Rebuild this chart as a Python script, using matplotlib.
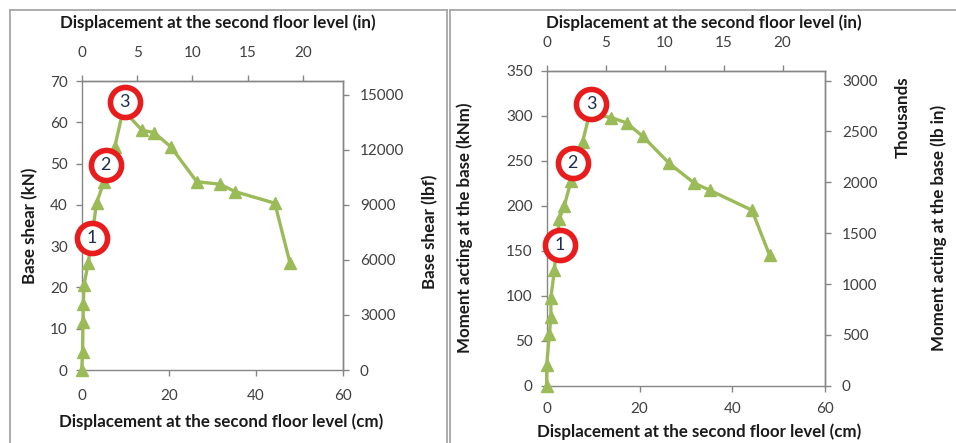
import numpy as np
import matplotlib.pyplot as plt
from matplotlib.lines import Line2D

plt.rcParams['font.family'] = ['Lato', 'DejaVu Sans']

# left chart: base shear vs displacement
disp_shear_cm = [0.0, 0.2, 0.3, 0.4, 0.5, 1.5, 3.4, 5.1, 7.6, 9.5, 13.8, 16.6, 20.4, 26.4, 31.7, 35.2, 44.3, 47.8]
shear_kn = [0.0, 4.4, 11.7, 16.1, 20.6, 25.8, 40.4, 45.6, 54.1, 63.0, 58.1, 57.5, 54.1, 45.6, 45.0, 43.2, 40.4, 25.8]
shear_marks_x = [2.3, 5.5, 9.9]
shear_marks_y = [31.9, 49.6, 65.0]

# right chart: base moment vs displacement
disp_moment_cm = [0.0, 0.0, 0.6, 0.9, 0.9, 1.65, 2.7, 3.8, 5.2, 7.75, 9.2, 13.9, 17.2, 20.7, 26.4, 31.8, 35.2, 44.2, 48.0]
moment_knm = [0.0, 23.0, 58.0, 76.7, 97.8, 128.5, 185.0, 200.0, 227.0, 271.0, 302.0, 298.0, 292.0, 277.0, 247.0, 225.0, 217.0, 195.0, 145.0]
moment_marks_x = [2.87, 5.6, 9.55]
moment_marks_y = [156.3, 247.8, 313.0]
mark_labels = ["1", "2", "3"]

GREEN = "#9BBB59"
RED = "#E81C1C"
SPINE = "#868686"
TICK = "#404040"
FS = 11

CM_PER_IN = 2.54
LBF_PER_KN = 224.809
KLBIN_PER_KNM = 8.8507


def style_axis(ax, pad):
    for s in ax.spines.values():
        s.set_color(SPINE)
        s.set_linewidth(1.0)
    ax.tick_params(direction="out", length=4, color=SPINE, labelcolor=TICK, labelsize=FS, width=1.0, pad=pad)


def draw_panel(rect, x, y, mx, my, ylim, yticks, y2conv, y2ticks, xpad_top, xpad_bot):
    ax = fig.add_axes(rect)
    ax.plot(x, y, color=GREEN, lw=2.4, marker="^", ms=9, zorder=3, clip_on=False)
    ax.scatter(mx, my, s=470, facecolor="white", edgecolor=RED, linewidth=4.0, zorder=4, clip_on=False)
    for xx, yy, lab in zip(mx, my, mark_labels):
        ax.text(xx, yy, lab, ha="center", va="center", fontsize=13, color="#1F2D4F", zorder=5)
    ax.set_xlim(0, 60)
    ax.set_xticks([0, 20, 40, 60])
    ax.set_ylim(*ylim)
    ax.set_yticks(yticks)
    style_axis(ax, 6)
    ax.tick_params(axis="x", pad=xpad_bot)

    top = ax.secondary_xaxis("top", functions=(lambda v: v / CM_PER_IN, lambda v: v * CM_PER_IN))
    top.set_xticks([0, 5, 10, 15, 20])
    style_axis(top, xpad_top)

    right = ax.secondary_yaxis("right", functions=(lambda v: v * y2conv, lambda v: v / y2conv))
    right.set_yticks(y2ticks)
    style_axis(right, 8)
    return ax


fig = plt.figure(figsize=(9.56, 4.43), dpi=100)
W, H = 956.0, 443.0

draw_panel([81.7 / W, 1 - 370 / H, 261.6 / W, 289 / H],
           disp_shear_cm, shear_kn, shear_marks_x, shear_marks_y,
           (0, 70), np.arange(0, 71, 10), LBF_PER_KN, np.arange(0, 15001, 3000), 11, 10)

draw_panel([546.7 / W, 1 - 385.7 / H, 278.6 / W, 315 / H],
           disp_moment_cm, moment_knm, moment_marks_x, moment_marks_y,
           (0, 350), np.arange(0, 351, 50), KLBIN_PER_KNM, np.arange(0, 3001, 500), 11, 8)

lab = dict(fontsize=12.2, fontweight="bold", color="#1A1A1A", ha="center", va="center")
fig.text(217.5 / W, 1 - 23 / H, "Displacement at the second floor level (in)", **lab)
fig.text(220.8 / W, 1 - 421.7 / H, "Displacement at the second floor level (cm)", **lab)
fig.text(30 / W, 1 - 226 / H, "Base shear (kN)", rotation=90, **lab)
fig.text(430 / W, 1 - 232 / H, "Base shear (lbf)", rotation=90, **lab)

fig.text(703.5 / W, 1 - 23 / H, "Displacement at the second floor level (in)", **lab)
fig.text(699 / W, 1 - 431.7 / H, "Displacement at the second floor level (cm)", **lab)
fig.text(465 / W, 1 - 228 / H, "Moment acting at the base (kNm)", rotation=90, **lab)
fig.text(903 / W, 1 - 117 / H, "Thousands", rotation=90, **lab)
fig.text(939 / W, 1 - 228 / H, "Moment acting at the base (lb in)", rotation=90, **lab)

# panel frames
fc = "#A6A6A6"
frame = [
    ([10, 10], [10, 443]),
    ([10, 447], [10, 10]),
    ([447, 447], [10, 443]),
    ([450, 450], [10, 443]),
    ([450, 956], [10, 10]),
]
for xs, ys in frame:
    fig.add_artist(Line2D([v / W for v in xs], [1 - v / H for v in ys], color=fc, lw=1.3))

fig.savefig("out.png", dpi=100)
